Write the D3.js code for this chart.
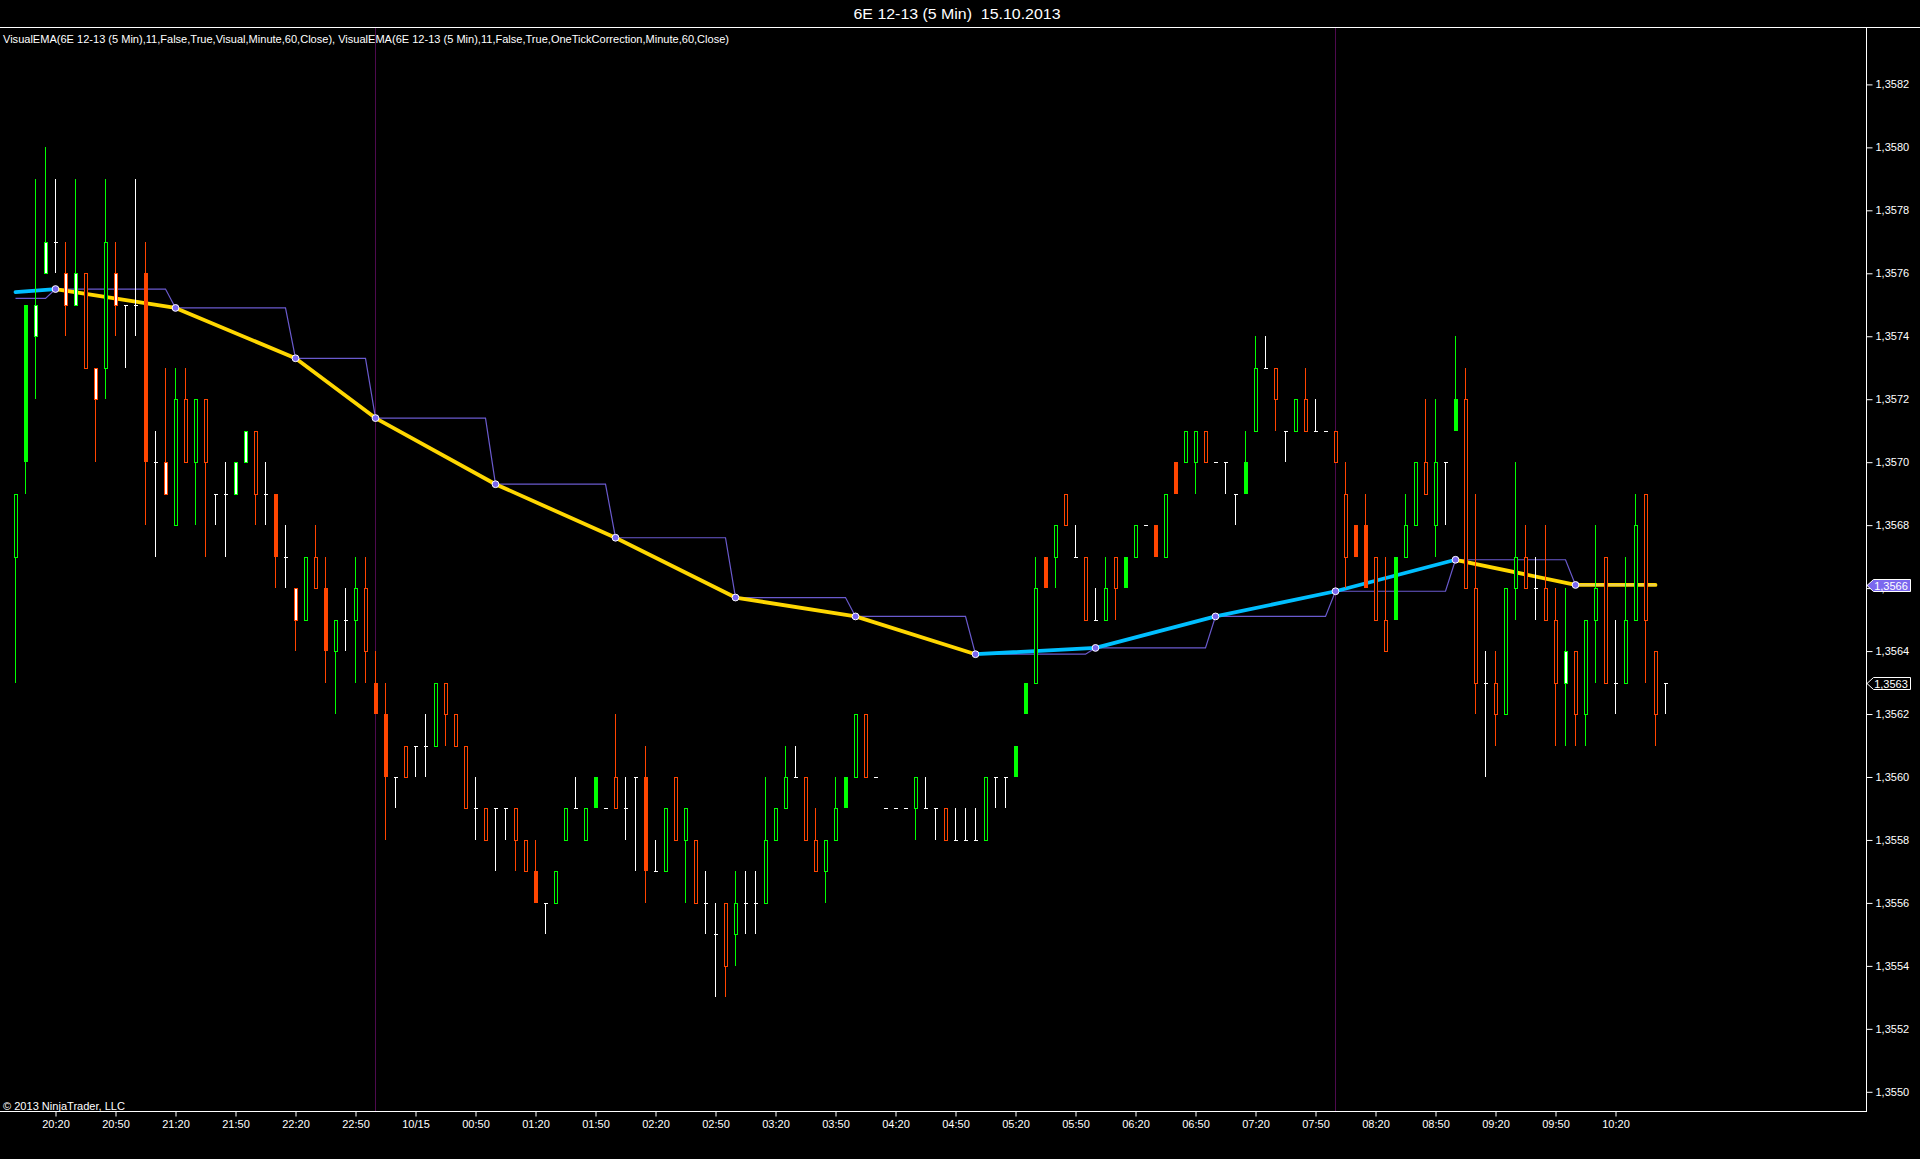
<!DOCTYPE html>
<html><head><meta charset="utf-8">
<script src="https://cdn.jsdelivr.net/npm/d3@7"></script>
<style>
html,body{margin:0;padding:0;background:#000;overflow:hidden}
svg{display:block}
text{font-family:"Liberation Sans",Arial,sans-serif;fill:#fff;white-space:pre}
</style></head><body>
<svg id="c" width="1920" height="1159"></svg>
<script>
// ---------------- DATA ----------------
const chartTitle = "6E 12-13 (5 Min)  15.10.2013";
const legendText = "VisualEMA(6E 12-13 (5 Min),11,False,True,Visual,Minute,60,Close), VisualEMA(6E 12-13 (5 Min),11,False,True,OneTickCorrection,Minute,60,Close)";
const copyrightText = "\u00A9 2013 NinjaTrader, LLC";

const sessionStarts = ["2013-10-14T20:00", "2013-10-15T00:00"];
const sessionBarCounts = [36, 130];
const sessionBreakTimes = ["2013-10-15T00:00", "2013-10-15T08:00"];

const open = [
1.3567,1.3570,1.3574,1.3576,1.3577,1.3576,1.3575,1.3576,1.3573,1.3573,
1.3576,1.3575,1.3575,1.3576,1.3570,1.3570,1.3568,1.3572,1.3570,1.3572,
1.3569,1.3569,1.3569,1.3570,1.3571,1.3569,1.3569,1.3567,1.3566,1.3565,
1.3567,1.3566,1.3564,1.3565,1.3565,1.3566,1.3563,1.3562,1.3560,1.3561,
1.3561,1.3561,1.3561,1.3563,1.3562,1.3561,1.3559,1.3559,1.3559,1.3559,
1.3559,1.3558,1.3557,1.3556,1.3556,1.3558,1.3559,1.3558,1.3559,1.3559,
1.3560,1.3559,1.3560,1.3560,1.3557,1.3557,1.3560,1.3558,1.3558,1.3556,
1.3555,1.3556,1.3555,1.3556,1.3556,1.3556,1.3558,1.3559,1.3560,1.3560,
1.3558,1.3557,1.3558,1.3559,1.3560,1.3562,1.3560,1.3559,1.3559,1.3559,
1.3559,1.3559,1.3559,1.3559,1.3558,1.3558,1.3558,1.3558,1.3560,1.3560,
1.3560,1.3562,1.3563,1.3567,1.3567,1.3569,1.3567,1.3567,1.3565,1.3565,
1.3567,1.3566,1.3567,1.3568,1.3568,1.3567,1.3570,1.3570,1.3570,1.3571,
1.3570,1.3570,1.3569,1.3569,1.3571,1.3573,1.3573,1.3571,1.3571,1.3572,
1.3571,1.3571,1.3571,1.3569,1.3568,1.3568,1.3567,1.3565,1.3565,1.3567,
1.3568,1.3570,1.3568,1.3570,1.3571,1.3572,1.3566,1.3563,1.3563,1.3562,
1.3566,1.3567,1.3566,1.3566,1.3565,1.3563,1.3564,1.3562,1.3565,1.3567,
1.3563,1.3563,1.3565,1.3569,1.3564,1.3563];
const high = [
1.3569,1.3575,1.3579,1.3580,1.3579,1.3577,1.3579,1.3576,1.3573,1.3579,
1.3577,1.3575,1.3579,1.3577,1.3571,1.3573,1.3573,1.3573,1.3572,1.3572,
1.3569,1.3570,1.3570,1.3571,1.3571,1.3570,1.3569,1.3568,1.3566,1.3567,
1.3568,1.3567,1.3565,1.3566,1.3567,1.3567,1.3564,1.3563,1.3560,1.3561,
1.3561,1.3562,1.3563,1.3563,1.3562,1.3561,1.3560,1.3559,1.3559,1.3559,
1.3559,1.3558,1.3558,1.3556,1.3557,1.3559,1.3560,1.3559,1.3560,1.3559,
1.3562,1.3560,1.3560,1.3561,1.3558,1.3559,1.3560,1.3559,1.3558,1.3557,
1.3556,1.3556,1.3557,1.3557,1.3557,1.3560,1.3559,1.3561,1.3561,1.3560,
1.3559,1.3558,1.3560,1.3560,1.3562,1.3562,1.3560,1.3559,1.3559,1.3559,
1.3560,1.3560,1.3559,1.3559,1.3559,1.3559,1.3559,1.3560,1.3560,1.3560,
1.3561,1.3563,1.3567,1.3567,1.3568,1.3569,1.3568,1.3567,1.3566,1.3567,
1.3567,1.3567,1.3568,1.3568,1.3568,1.3569,1.3570,1.3571,1.3571,1.3571,
1.3570,1.3570,1.3569,1.3571,1.3574,1.3574,1.3573,1.3571,1.3572,1.3573,
1.3572,1.3571,1.3571,1.3570,1.3568,1.3569,1.3567,1.3567,1.3567,1.3569,
1.3570,1.3572,1.3572,1.3570,1.3574,1.3573,1.3569,1.3564,1.3564,1.3566,
1.3570,1.3568,1.3567,1.3568,1.3566,1.3566,1.3564,1.3565,1.3568,1.3567,
1.3565,1.3567,1.3569,1.3569,1.3564,1.3563];
const low = [
1.3563,1.3569,1.3572,1.3576,1.3576,1.3574,1.3575,1.3573,1.3570,1.3572,
1.3574,1.3573,1.3574,1.3568,1.3567,1.3569,1.3568,1.3570,1.3568,1.3567,
1.3568,1.3567,1.3569,1.3570,1.3568,1.3568,1.3566,1.3566,1.3564,1.3565,
1.3566,1.3563,1.3562,1.3564,1.3563,1.3563,1.3562,1.3558,1.3559,1.3560,
1.3560,1.3560,1.3561,1.3561,1.3561,1.3559,1.3558,1.3558,1.3557,1.3558,
1.3557,1.3557,1.3556,1.3555,1.3556,1.3558,1.3559,1.3558,1.3559,1.3559,
1.3559,1.3558,1.3557,1.3556,1.3557,1.3557,1.3558,1.3556,1.3556,1.3555,
1.3553,1.3553,1.3554,1.3555,1.3555,1.3556,1.3558,1.3559,1.3560,1.3558,
1.3557,1.3556,1.3558,1.3559,1.3560,1.3560,1.3560,1.3559,1.3559,1.3559,
1.3558,1.3559,1.3558,1.3558,1.3558,1.3558,1.3558,1.3558,1.3559,1.3559,
1.3560,1.3562,1.3563,1.3566,1.3566,1.3568,1.3567,1.3565,1.3565,1.3565,
1.3565,1.3566,1.3567,1.3568,1.3567,1.3567,1.3569,1.3570,1.3569,1.3570,
1.3570,1.3569,1.3568,1.3569,1.3571,1.3573,1.3571,1.3570,1.3571,1.3571,
1.3571,1.3571,1.3570,1.3566,1.3567,1.3566,1.3565,1.3564,1.3565,1.3567,
1.3568,1.3569,1.3567,1.3568,1.3571,1.3566,1.3562,1.3560,1.3561,1.3562,
1.3565,1.3566,1.3565,1.3565,1.3561,1.3561,1.3561,1.3561,1.3563,1.3563,
1.3562,1.3563,1.3565,1.3563,1.3561,1.3562];
const close = [
1.3569,1.3575,1.3575,1.3577,1.3577,1.3575,1.3576,1.3573,1.3572,1.3577,
1.3575,1.3575,1.3575,1.3570,1.3570,1.3569,1.3572,1.3570,1.3572,1.3570,
1.3569,1.3569,1.3570,1.3571,1.3569,1.3569,1.3567,1.3567,1.3565,1.3567,
1.3566,1.3564,1.3565,1.3565,1.3566,1.3564,1.3562,1.3560,1.3560,1.3560,
1.3561,1.3561,1.3563,1.3562,1.3561,1.3559,1.3559,1.3558,1.3559,1.3559,
1.3558,1.3557,1.3556,1.3556,1.3557,1.3559,1.3559,1.3559,1.3560,1.3559,
1.3559,1.3559,1.3560,1.3557,1.3557,1.3559,1.3558,1.3559,1.3556,1.3556,
1.3555,1.3554,1.3556,1.3556,1.3556,1.3558,1.3559,1.3560,1.3560,1.3558,
1.3557,1.3558,1.3559,1.3560,1.3562,1.3560,1.3560,1.3559,1.3559,1.3559,
1.3560,1.3559,1.3559,1.3558,1.3558,1.3558,1.3558,1.3560,1.3560,1.3560,
1.3561,1.3563,1.3566,1.3566,1.3568,1.3568,1.3567,1.3565,1.3565,1.3566,
1.3566,1.3567,1.3568,1.3568,1.3567,1.3569,1.3569,1.3571,1.3571,1.3570,
1.3570,1.3570,1.3569,1.3570,1.3573,1.3573,1.3572,1.3571,1.3572,1.3571,
1.3571,1.3571,1.3570,1.3567,1.3567,1.3566,1.3565,1.3564,1.3567,1.3568,
1.3570,1.3569,1.3570,1.3570,1.3572,1.3566,1.3563,1.3563,1.3562,1.3566,
1.3567,1.3566,1.3566,1.3565,1.3563,1.3564,1.3562,1.3565,1.3566,1.3563,
1.3563,1.3565,1.3568,1.3565,1.3562,1.3563];
// body style: S = solid, H = hollow (dark inside), W = hollow with light inside, - = no body
const bodyStyle = (
"HSWW-WWHWHW--S-WHHHH--WWH-S-WHHSH-HHSS-H--HHHH-H--HHS-HH-HS-H--S-HHHH--HH--HHH-HHHHSH----S--H---H--SSSHSH-S-HHHS-HSHSHH---HS-H-HH-SSHHSSHHSHH-HSS-HHH-HHWHHWH-HHHH-"
).split("");

// 60-minute EMA(11) values at hourly closes (marker points)
const emaTimes = ["2013-10-14T20:20","2013-10-14T21:20","2013-10-14T22:20","2013-10-15T00:00",
  "2013-10-15T01:00","2013-10-15T02:00","2013-10-15T03:00","2013-10-15T04:00","2013-10-15T05:00",
  "2013-10-15T06:00","2013-10-15T07:00","2013-10-15T08:00","2013-10-15T09:00","2013-10-15T10:00"];
const emaValues = [1.35755,1.35749,1.35733,1.35714,1.35693,1.35676,1.35657,1.35651,1.35639,
  1.35641,1.35651,1.35659,1.35669,1.35661];
const visualFirstValue = 1.35754;   // visual line at the first bar
const stepFirstValue = 1.35752;     // previous hourly value held before first marker
const lineEndTime = "2013-10-15T10:40";

const yTickValues = [1.3550,1.3552,1.3554,1.3556,1.3558,1.3560,1.3562,1.3564,1.3566,1.3568,
  1.3570,1.3572,1.3574,1.3576,1.3578,1.3580,1.3582];

// ---------------- LAYOUT ----------------
const W = 1920, H = 1159;
const plotRight = 1866, plotTop = 27, plotBottom = 1111;
const C = {up:"#00ff00", down:"#ff4500", flat:"#ffffff", rise:"#00bfff", fall:"#ffd700",
  step:"#6a5acd", marker:"#7b68ee", session:"#4e0a4e"};

const parse = d3.timeParse("%Y-%m-%dT%H:%M");
const keyFmt = d3.timeFormat("%Y-%m-%dT%H:%M");
const times = [];
sessionStarts.forEach((s, k) => {
  const t0 = parse(s);
  for (let j = 0; j < sessionBarCounts[k]; j++) times.push(d3.timeMinute.offset(t0, 5 * j));
});
const keys = times.map(keyFmt);
const bars = keys.map((k, i) => ({key:k, t:times[i], o:open[i], h:high[i], l:low[i], c:close[i], s:bodyStyle[i]}));

const x = d3.scalePoint().domain(keys).range([15.5, 15.5 + 10 * (keys.length - 1)]);
const y = d3.scaleLinear().domain([1.3550, 1.3582]).range([1091.8, 84.4]);

const svg = d3.select("#c");
svg.append("rect").attr("width", W).attr("height", H).attr("fill", "#000");

// title + legend
svg.append("text").attr("x", 957).attr("y", 18.5).attr("text-anchor", "middle")
  .style("font-size", "14px").attr("textLength", 207).attr("lengthAdjust", "spacingAndGlyphs").text(chartTitle);
svg.append("line").attr("x1", 0).attr("x2", W).attr("y1", plotTop + 0.5).attr("y2", plotTop + 0.5)
  .attr("stroke", "#fff").attr("stroke-width", 1);
svg.append("text").attr("x", 3).attr("y", 43).style("font-size", "11px")
  .attr("textLength", 726).attr("lengthAdjust", "spacingAndGlyphs").text(legendText);

// session break lines
svg.append("g").selectAll("line").data(sessionBreakTimes).join("line")
  .attr("x1", d => x(d)).attr("x2", d => x(d)).attr("y1", plotTop + 1).attr("y2", plotBottom)
  .attr("stroke", C.session).attr("stroke-width", 1).attr("shape-rendering", "crispEdges");

// EMA points
const markers = emaTimes.map((t, i) => ({key:t, v:emaValues[i]}));
const visPts = [{key:keys[0], v:visualFirstValue}, ...markers, {key:lineEndTime, v:emaValues[emaValues.length - 1]}];
const stepPts = [];
const idx = k => keys.indexOf(k);
stepPts.push({key:keys[0], v:stepFirstValue});
stepPts.push({key:keys[idx(markers[0].key) - 1], v:stepFirstValue});
markers.forEach((m, i) => {
  stepPts.push({key:m.key, v:m.v});
  const nextKey = i < markers.length - 1 ? keys[idx(markers[i + 1].key) - 1] : lineEndTime;
  stepPts.push({key:nextKey, v:m.v});
});
const lineGen = d3.line().x(d => x(d.key)).y(d => y(d.v));

// step line
svg.append("path").attr("d", lineGen(stepPts)).attr("fill", "none")
  .attr("stroke", C.step).attr("stroke-width", 1.2);

// visual line, coloured per segment
const segs = d3.pairs(visPts);
svg.append("g").selectAll("path").data(segs).join("path")
  .attr("d", d => lineGen(d)).attr("fill", "none")
  .attr("stroke", d => d[1].v > d[0].v ? C.rise : C.fall)
  .attr("stroke-width", 3.8).attr("stroke-linecap", "round");
// thin overlap of the held value on the last (incomplete hour) segment
svg.append("path").attr("d", lineGen(segs[segs.length - 1])).attr("fill", "none")
  .attr("stroke", "#d9c79a").attr("stroke-width", 1);

// candles
const col = d => d.c > d.o ? C.up : (d.c < d.o ? C.down : C.flat);
const cg = svg.append("g").attr("shape-rendering", "crispEdges");
cg.selectAll("line.wick").data(bars.filter(d => d.h > d.l)).join("line").attr("class", "wick")
  .attr("x1", d => x(d.key)).attr("x2", d => x(d.key))
  .attr("y1", d => y(d.h)).attr("y2", d => y(d.l)).attr("stroke", col).attr("stroke-width", 1);
cg.selectAll("line.tick").data(bars.filter(d => d.c === d.o)).join("line").attr("class", "tick")
  .attr("x1", d => x(d.key) - 2).attr("x2", d => x(d.key) + 2)
  .attr("y1", d => Math.round(y(d.c)) + 0.5).attr("y2", d => Math.round(y(d.c)) + 0.5)
  .attr("stroke", C.flat).attr("stroke-width", 1);
const bodies = bars.filter(d => d.c !== d.o);
cg.selectAll("rect.solid").data(bodies.filter(d => d.s === "S")).join("rect").attr("class", "solid")
  .attr("x", d => x(d.key) - 2).attr("width", 4)
  .attr("y", d => y(Math.max(d.o, d.c))).attr("height", d => y(Math.min(d.o, d.c)) - y(Math.max(d.o, d.c)))
  .attr("fill", col);
cg.selectAll("rect.hollow").data(bodies.filter(d => d.s !== "S")).join("rect").attr("class", "hollow")
  .attr("x", d => x(d.key) - 1.5).attr("width", 3)
  .attr("y", d => Math.round(y(Math.max(d.o, d.c))) + 0.5)
  .attr("height", d => Math.round(y(Math.min(d.o, d.c))) - Math.round(y(Math.max(d.o, d.c))))
  .attr("fill", d => d.s === "W" ? "#ffffff" : "#000000").attr("stroke", col).attr("stroke-width", 1);

// markers
svg.append("g").selectAll("circle").data(markers).join("circle")
  .attr("cx", d => x(d.key)).attr("cy", d => y(d.v)).attr("r", 3.4)
  .attr("fill", C.marker).attr("stroke", "#fff").attr("stroke-width", 1);

// axes frame
svg.append("line").attr("x1", plotRight + 0.5).attr("x2", plotRight + 0.5).attr("y1", plotTop).attr("y2", plotBottom + 1)
  .attr("stroke", "#fff");
svg.append("line").attr("x1", 0).attr("x2", plotRight + 1).attr("y1", plotBottom + 0.5).attr("y2", plotBottom + 0.5)
  .attr("stroke", "#fff");

const loc = d3.formatLocale({decimal:",", thousands:".", grouping:[3], currency:["", ""]});
const pf = loc.format(".4f");

const ya = svg.append("g").attr("transform", `translate(${plotRight + 0.5},0)`)
  .call(d3.axisRight(y).tickValues(yTickValues).tickSize(6).tickPadding(3).tickFormat(pf));
ya.select(".domain").remove();
ya.selectAll(".tick line").attr("stroke", "#fff");
ya.selectAll(".tick text").style("font-size", "11px").attr("fill", "#fff").style("font-family", "Liberation Sans, Arial, sans-serif");

// x ticks: every 30 minutes at :20 / :50, date shown at first tick of a new day
const tickBars = bars.filter(d => d.t.getMinutes() % 30 === 20);
const tf = d3.timeFormat("%H:%M"), df = d3.timeFormat("%m/%d"), dayKey = d3.timeFormat("%Y%m%d");
const tickLabel = {};
tickBars.forEach((d, i) => {
  tickLabel[d.key] = (i > 0 && dayKey(d.t) !== dayKey(tickBars[i - 1].t)) ? df(d.t) : tf(d.t);
});
const xa = svg.append("g").attr("transform", `translate(0,${plotBottom + 0.5})`)
  .call(d3.axisBottom(x).tickValues(tickBars.map(d => d.key)).tickSize(5).tickPadding(4).tickFormat(k => tickLabel[k]));
xa.select(".domain").remove();
xa.selectAll(".tick line").attr("stroke", "#fff");
xa.selectAll(".tick text").style("font-size", "11px").attr("fill", "#fff").style("font-family", "Liberation Sans, Arial, sans-serif");

// copyright
svg.append("text").attr("x", 3).attr("y", 1110).style("font-size", "11px").attr("textLength", 122)
  .attr("lengthAdjust", "spacingAndGlyphs").text(copyrightText);

// price flags on the axis
function flag(v, fill) {
  const yy = Math.round(y(v)) + 0.5;
  const g = svg.append("g");
  g.append("path").attr("d", `M${plotRight + 1},${yy} L${plotRight + 7.5},${yy - 6} L${1910.5},${yy - 6} L${1910.5},${yy + 6} L${plotRight + 7.5},${yy + 6} Z`)
    .attr("fill", fill).attr("stroke", "#fff").attr("stroke-width", 1);
  g.append("text").attr("x", 1891).attr("y", yy + 4).attr("text-anchor", "middle").style("font-size", "11px")
    .attr("fill", "#fff").text(pf(v));
}
flag(emaValues[emaValues.length - 1], C.marker);
flag(close[close.length - 1], "#000");
</script>
</body></html>
